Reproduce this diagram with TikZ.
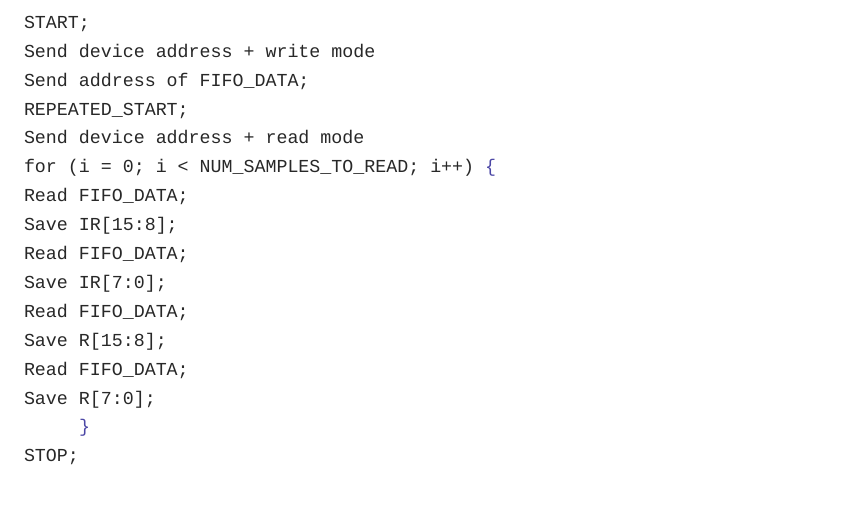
\documentclass[tikz,border=0pt]{standalone}
\usepackage{fontspec}
\setmonofont{Liberation Mono}
\definecolor{codetext}{RGB}{40,40,40}
\definecolor{bracecol}{RGB}{75,70,165}
\begin{document}
\begin{tikzpicture}[x=1pt,y=1pt,
  codeline/.style={anchor=base west, inner sep=0pt, outer sep=0pt,
    text=codetext, font=\ttfamily\fontsize{18.3}{20}\selectfont}]
\useasboundingbox[fill=white] (0,0) rectangle (841,-509);
\def\pitch{28.9}
\node[codeline] (l1)  at (24,-28.3-0*\pitch)  {START;};
\node[codeline] (l2)  at (24,-28.3-1*\pitch)  {Send device address + write mode};
\node[codeline] (l3)  at (24,-28.3-2*\pitch)  {Send address of FIFO\_DATA;};
\node[codeline] (l4)  at (24,-28.3-3*\pitch)  {REPEATED\_START;};
\node[codeline] (l5)  at (24,-28.3-4*\pitch)  {Send device address + read mode};
\node[codeline] (l6)  at (24,-28.3-5*\pitch)  {for (i = 0; i < NUM\_SAMPLES\_TO\_READ; i++) \textcolor{bracecol}{\{}};
\node[codeline] (l7)  at (24,-28.3-6*\pitch)  {Read FIFO\_DATA;};
\node[codeline] (l8)  at (24,-28.3-7*\pitch)  {Save IR[15:8];};
\node[codeline] (l9)  at (24,-28.3-8*\pitch)  {Read FIFO\_DATA;};
\node[codeline] (l10) at (24,-28.3-9*\pitch)  {Save IR[7:0];};
\node[codeline] (l11) at (24,-28.3-10*\pitch) {Read FIFO\_DATA;};
\node[codeline] (l12) at (24,-28.3-11*\pitch) {Save R[15:8];};
\node[codeline] (l13) at (24,-28.3-12*\pitch) {Read FIFO\_DATA;};
\node[codeline] (l14) at (24,-28.3-13*\pitch) {Save R[7:0];};
\node[codeline] (l15) at (79,-28.3-14*\pitch) {\textcolor{bracecol}{\}}};
\node[codeline] (l16) at (24,-28.3-15*\pitch) {STOP;};
\end{tikzpicture}
\end{document}
